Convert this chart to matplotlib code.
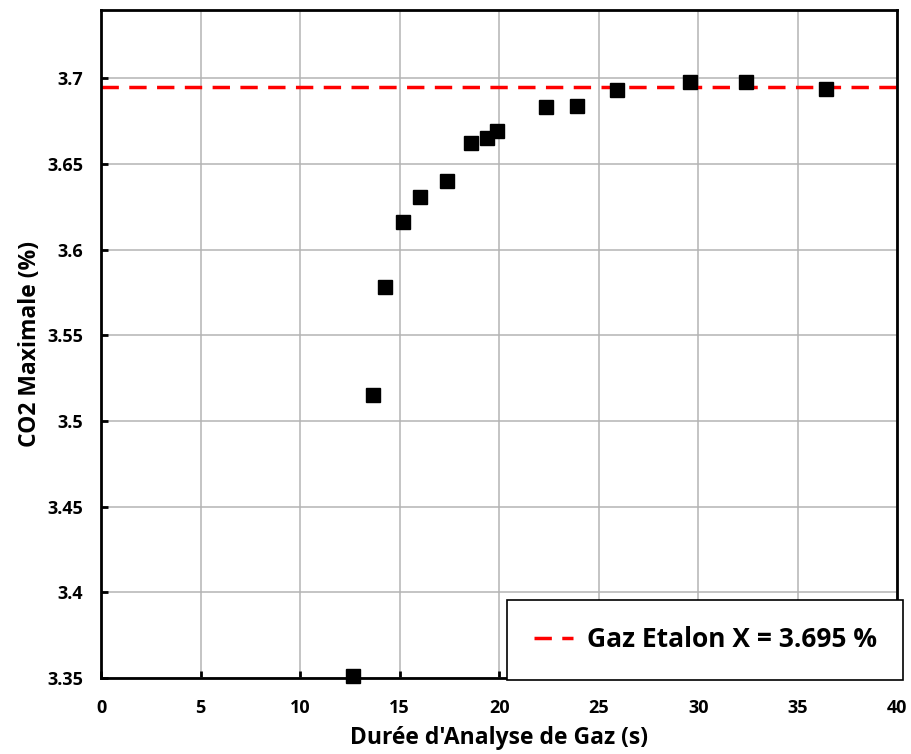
import matplotlib
import matplotlib.pyplot as plt

matplotlib.use("Agg")

# data
duree = [12.65, 13.67, 14.27, 15.18, 16.03, 17.39, 18.59, 19.4, 19.9,
         22.36, 23.92, 25.93, 29.6, 32.41, 36.43]
co2_max = [3.351, 3.515, 3.578, 3.616, 3.631, 3.640, 3.662, 3.665, 3.669,
           3.683, 3.684, 3.693, 3.698, 3.698, 3.694]
etalon = 3.695
x_ticks = [0, 5, 10, 15, 20, 25, 30, 35, 40]
y_ticks = [3.35, 3.4, 3.45, 3.5, 3.55, 3.6, 3.65, 3.7]

plt.rcParams["font.family"] = ["Open Sans", "DejaVu Sans"]
plt.rcParams["font.weight"] = "bold"

fig = plt.figure(figsize=(9.11, 7.54), dpi=100)
ax = fig.add_axes([0.111, 0.101, 0.874, 0.886])

ax.axhline(etalon, color="#ff0000", lw=2.5, dashes=(5, 3), zorder=2,
           label=f"Gaz Etalon X = {etalon} %")
ax.plot(duree, co2_max, ls="none", marker="s", ms=10.5, color="black",
        zorder=3, clip_on=False)

ax.set_xlim(0, 40)
ax.set_ylim(3.35, 3.74)
ax.set_xticks(x_ticks)
ax.set_yticks(y_ticks)
ax.set_yticklabels([f"{v:g}" for v in y_ticks])
ax.grid(True, color="#b4b4b4", lw=1.1, zorder=0)
ax.set_axisbelow(True)

for sp in ax.spines.values():
    sp.set_linewidth(2)
ax.tick_params(direction="in", length=5, width=2, labelsize=13)
ax.tick_params(axis="x", pad=15)
ax.tick_params(axis="y", pad=13)
for lab in ax.get_xticklabels() + ax.get_yticklabels():
    lab.set_fontweight("bold")

ax.set_xlabel("Durée d'Analyse de Gaz (s)", fontsize=16.5, fontweight="bold",
              labelpad=7)
ax.set_ylabel("CO2 Maximale (%)", fontsize=16.5, fontweight="bold",
              labelpad=4)

leg = ax.legend(loc="lower right", bbox_to_anchor=(1.007, -0.003),
                prop={"size": 19, "weight": "bold"}, handlelength=1.5,
                fancybox=False, framealpha=1, borderpad=1.0,
                borderaxespad=0, handletextpad=0.5)
leg.get_frame().set_edgecolor("black")
leg.get_frame().set_linewidth(1.2)

fig.savefig("out.png", dpi=100)
